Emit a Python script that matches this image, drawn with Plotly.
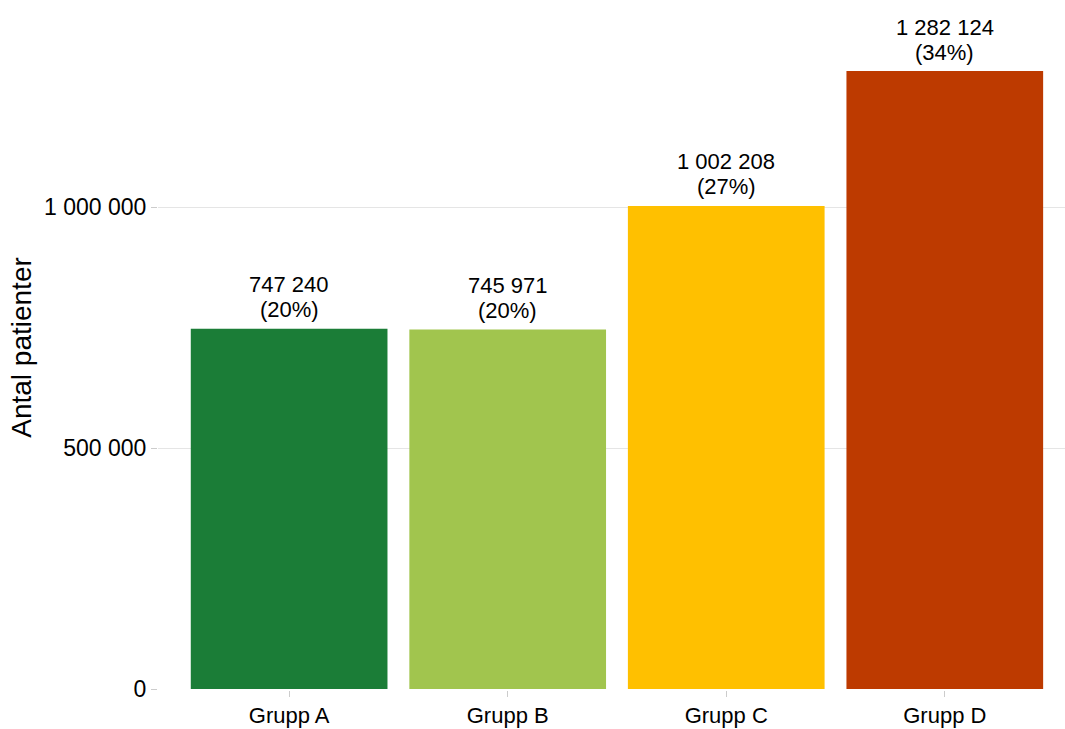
import plotly.graph_objects as go

categories = ["Grupp A", "Grupp B", "Grupp C", "Grupp D"]
values = [747240, 745971, 1002208, 1282124]
colors = ["#1B7D37", "#A1C54E", "#FFC000", "#BD3A00"]
y_tickvals = [0, 500000, 1000000]
y_ticktext = ["0", "500 000", "1 000 000"]

total = sum(values)
def fmt(v):
    return f"{v:,}".replace(",", " ")
value_labels = [fmt(v) for v in values]
pct_labels = [f"({round(100*v/total)}%)" for v in values]

FONT = "Liberation Sans, Arial, sans-serif"

fig = go.Figure(go.Bar(
    x=categories, y=values, marker=dict(color=colors, line=dict(width=0)),
    hoverinfo="x+y",
))

annotations = []
for c, v, vl, pl in zip(categories, values, value_labels, pct_labels):
    annotations.append(dict(x=c, y=v, xref="x", yref="y", text=vl, showarrow=False,
                            yanchor="middle", yshift=44,
                            font=dict(family=FONT, size=22, color="black")))
    annotations.append(dict(x=c, y=v, xref="x", yref="y", text=pl, showarrow=False,
                            yanchor="middle", yshift=19,
                            font=dict(family=FONT, size=22, color="black")))

fig.update_layout(
    width=1065, height=729,
    margin=dict(l=158, r=0, t=5, b=39),
    plot_bgcolor="white", paper_bgcolor="white",
    bargap=0.1, showlegend=False,
    font=dict(family=FONT, color="black"),
    annotations=annotations,
)
fig.update_xaxes(
    range=[-0.6, 3.55], showgrid=False, zeroline=False, showline=False,
    ticks="outside", ticklen=6, tickcolor="#CCCCCC", tickwidth=1,
    tickfont=dict(family=FONT, size=22, color="black"), automargin=False,
)
fig.update_yaxes(
    range=[-2075, 1419087], tickvals=y_tickvals, ticktext=y_ticktext,
    showgrid=True, gridcolor="#E5E5E5", gridwidth=1, zeroline=False, showline=False,
    ticks="outside", ticklen=6, tickcolor="#CCCCCC", tickwidth=1,
    tickfont=dict(family=FONT, size=23, color="black"), automargin=False,
    title=dict(text="Antal patienter", font=dict(family=FONT, size=28, color="black"), standoff=4),
)

fig.write_html("out.html")
